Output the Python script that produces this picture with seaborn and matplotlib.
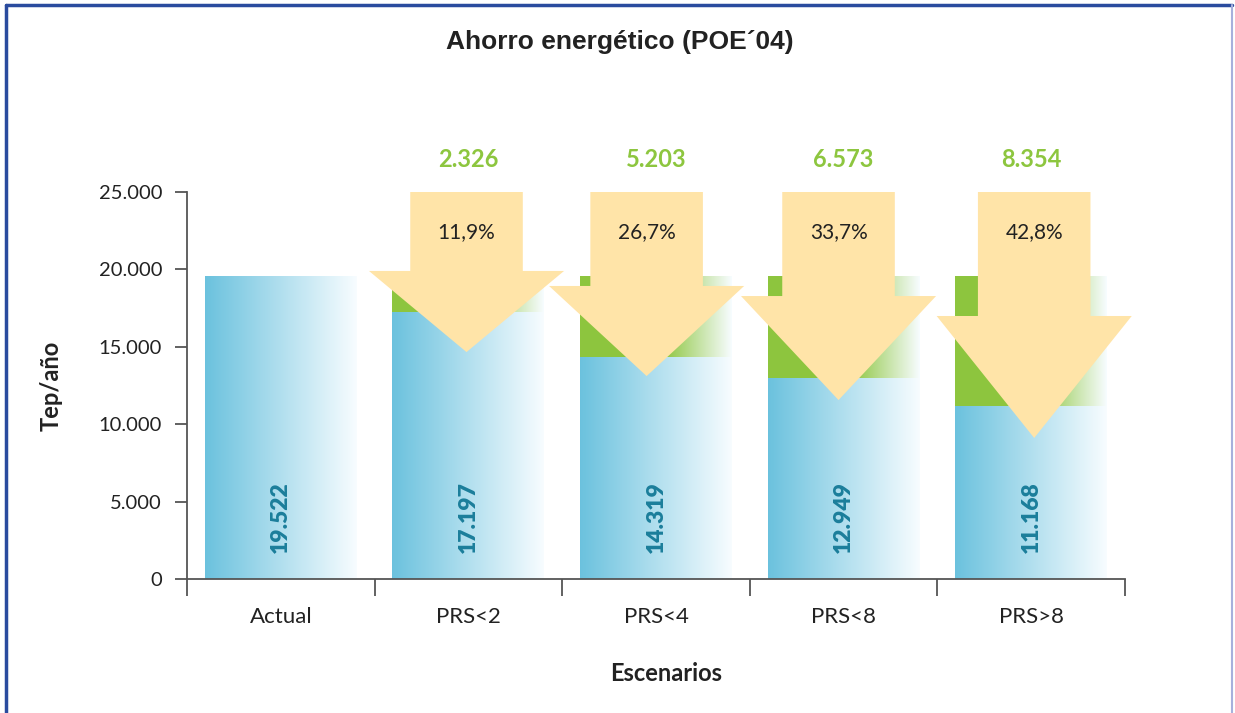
import matplotlib
matplotlib.use("Agg")
import matplotlib.pyplot as plt
from matplotlib.patches import Polygon
from matplotlib.lines import Line2D
from matplotlib.ticker import FixedLocator, FuncFormatter
import seaborn as sns
import numpy as np
import pandas as pd

# datos
escenarios = ["Actual", "PRS<2", "PRS<4", "PRS<8", "PRS>8"]
consumo = [19522, 17197, 14319, 12949, 11168]      # Tep/año tras el ahorro
ahorro = [0, 2326, 5203, 6573, 8354]               # ahorro energético
porcentaje = ["", "11,9%", "26,7%", "33,7%", "42,8%"]
total = [19522] * 5

# colores
AZUL = (0.42, 0.76, 0.87)
VERDE = (0.553, 0.776, 0.247)
AMARILLO = "#FFE4A8"
TEXTO_VERDE = "#8DC63F"
TEXTO_AZUL = "#1B7E9B"

# forma de las flechas (niveles en Tep/año)
flecha_base = [0, 19900, 18930, 18280, 16990]
flecha_punta = [0, 14660, 13110, 11560, 9110]
flecha_dx = [0, -0.01, -0.05, -0.027, 0.016]

sns.set_style("white")
plt.rcParams["font.family"] = ["Lato", "DejaVu Sans"]

fig = plt.figure(figsize=(12.35, 7.13), dpi=100)
ax = fig.add_axes([187 / 1235, 1 - 579 / 713, 938 / 1235, 387 / 713])

df = pd.DataFrame({"Escenario": escenarios, "Total": total, "Consumo": consumo})
sns.barplot(data=df, x="Escenario", y="Total", color=VERDE, width=0.81, ax=ax,
            saturation=1, zorder=1)
sns.barplot(data=df, x="Escenario", y="Consumo", color=AZUL, width=0.81, ax=ax,
            saturation=1, zorder=1)


def gradiente(c0, inicio):
    t = np.linspace(0, 1, 256)
    f = np.clip((t - inicio) / (1 - inicio), 0, 1)
    c0 = np.array(c0)
    c1 = np.array([0.97, 0.99, 1.0])
    fila = c0[None, :] * (1 - f[:, None]) + c1[None, :] * f[:, None]
    return fila[None, :, :]


grad_verde = gradiente(VERDE, 0.55)
grad_azul = gradiente(AZUL, 0.0)
n = len(escenarios)
for i, p in enumerate(ax.patches):
    x0, y0 = p.get_x(), p.get_y()
    w, h = p.get_width(), p.get_height()
    g = grad_verde if i < n else grad_azul
    ax.imshow(g, extent=[x0, x0 + w, y0, y0 + h], aspect="auto",
              origin="lower", zorder=1.5, interpolation="bilinear")
    p.set_facecolor("none")
    p.set_edgecolor("none")

ax.set_xlim(-0.5, 4.5)
ax.set_ylim(0, 25000)

# flechas
for i in range(1, n):
    c = i + flecha_dx[i]
    sw, hw = 0.30, 0.52
    pts = [(c - sw, 25000), (c + sw, 25000), (c + sw, flecha_base[i]),
           (c + hw, flecha_base[i]), (c, flecha_punta[i]),
           (c - hw, flecha_base[i]), (c - sw, flecha_base[i])]
    ax.add_patch(Polygon(pts, closed=True, facecolor=AMARILLO, edgecolor="none",
                         zorder=3, clip_on=False))
    ax.text(c, 22400, porcentaje[i], ha="center", va="center", fontsize=15,
            color="#222222", zorder=4)
    ax.text(i, 27070, f"{ahorro[i]:,}".replace(",", "."), ha="center",
            va="center", fontsize=17, fontweight="bold", color=TEXTO_VERDE,
            clip_on=False)

for i, v in enumerate(consumo):
    ax.text(i, 4000, f"{v:,}".replace(",", "."), rotation=90, ha="center",
            va="center", fontsize=16.5, fontweight="heavy", color=TEXTO_AZUL,
            zorder=4)

# ejes
sns.despine(ax=ax)
for s in ["left", "bottom"]:
    ax.spines[s].set_color("#555555")
    ax.spines[s].set_linewidth(1.3)
ax.yaxis.set_major_locator(FixedLocator(np.arange(0, 25001, 5000)))
ax.yaxis.set_major_formatter(FuncFormatter(lambda v, _: f"{v:,.0f}".replace(",", ".")))
ax.tick_params(axis="y", length=9, width=1.3, color="#555555", labelsize=14.5,
               labelcolor="#222222", pad=9, left=True)
ax.set_xticks(np.arange(-0.5, n, 1.0))
ax.set_xticklabels([])
ax.set_xticks(range(n), minor=True)
ax.set_xticklabels(escenarios, minor=True)
ax.tick_params(axis="x", which="major", length=12, width=1.3, color="#555555",
               bottom=True, direction="out")
ax.tick_params(axis="x", which="minor", length=0, labelsize=16,
               labelcolor="#222222", pad=20)

ax.set_xlabel("Escenarios", fontsize=17, fontweight="bold", color="#222222")
ax.xaxis.set_label_coords(0.511, -0.215)
ax.set_ylabel("Tep/año", fontsize=17, fontweight="bold", color="#222222")
ax.yaxis.set_label_coords(-0.133, 0.5)

fig.text(620 / 1235, 1 - 42 / 713, "Ahorro energético (POE´04)", ha="center",
         va="center", fontsize=19, fontweight="bold", color="#222222",
         family=["Liberation Sans", "DejaVu Sans"])

# marco
fig.add_artist(Line2D([6 / 1235, 6 / 1235], [0, 1 - 5 / 713], color="#2A4B9E", lw=2.5))
fig.add_artist(Line2D([6 / 1235, 1232 / 1235], [1 - 5 / 713, 1 - 5 / 713],
                      color="#2A4B9E", lw=2.5))
fig.add_artist(Line2D([1232 / 1235, 1232 / 1235], [0, 1 - 5 / 713], color="#A7B0DC", lw=1.5))

fig.savefig("out.png", dpi=100)
